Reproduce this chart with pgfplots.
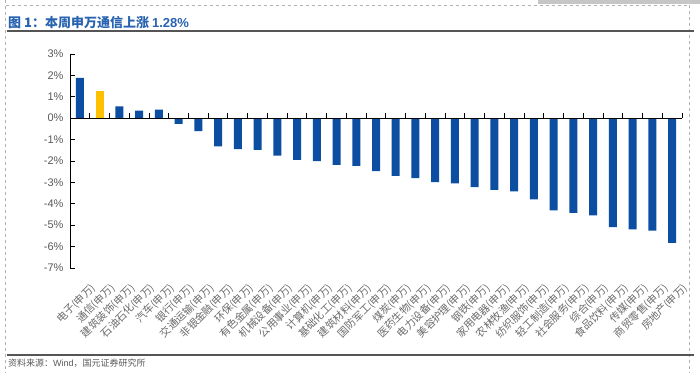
\documentclass[border=0pt]{standalone}
\usepackage{pgfplots}
\pgfplotsset{compat=1.18}
\usepackage{fontspec}
\setmainfont{Liberation Sans}
\newfontfamily\cjk{Noto Sans CJK SC}
\definecolor{barblue}{HTML}{0B4EA2}
\definecolor{baryellow}{HTML}{FFC000}
\definecolor{titleblue}{HTML}{2763B0}
\definecolor{txtgray}{HTML}{595959}
\definecolor{lblgray}{HTML}{6A6A6A}
\definecolor{rulegray}{HTML}{555555}
\begin{document}
\begin{tikzpicture}
\path[use as bounding box] (0pt,0pt) rectangle (700pt,373pt);
% frame artifacts
\fill[gray!45] (538pt,373pt) rectangle (700pt,369pt);
\draw[gray!60, dashed, line width=0.5pt] (5.5pt,373pt) -- (5.5pt,0pt);
\draw[gray!60, dashed, line width=0.5pt] (5.5pt,368pt) -- (689pt,368pt) -- (689pt,0pt);
% title
\node[anchor=base west, inner sep=0pt, text=titleblue, font=\fontsize{13}{13}\selectfont\bfseries] at (8pt,345pt) {\cjk\bfseries 图 1：本周申万通信上涨 {\rmfamily\bfseries 1.28\%}};
\draw[rulegray, line width=1.6pt] (7pt,342pt) -- (694pt,342pt);
% source
\draw[rulegray, line width=1.6pt] (7pt,18pt) -- (694pt,18pt);
\node[anchor=base west, inner sep=0pt, text=txtgray, font=\fontsize{9}{9}\selectfont] at (8pt,6.5pt) {\cjk 资料来源：{\rmfamily Wind}，国元证券研究所};
\begin{axis}[
  at={(70pt,105pt)}, anchor=south west,
  width=612pt, height=214pt, scale only axis,
  xmin=-0.5, xmax=30.5, ymin=-7, ymax=3,
  axis y line*=left, axis x line*=bottom,
  x axis line style={draw=none},
  y axis line style={black, line width=0.9pt},
  ytick={-7,...,3},
  yticklabel={\pgfmathprintnumber{\tick}\%},
  /pgf/number format/assume math mode=true,
  y tick label style={font=\fontsize{11}{11}\selectfont, text=txtgray, xshift=-3pt},
  ytick style={black, line width=0.9pt},
  major tick length=5pt,
  tick align=inside,
  xtick={0,...,30},
  xtick style={draw=none},
  xticklabels={电子(申万),通信(申万),建筑装饰(申万),石油石化(申万),汽车(申万),银行(申万),交通运输(申万),非银金融(申万),环保(申万),有色金属(申万),机械设备(申万),公用事业(申万),计算机(申万),基础化工(申万),建筑材料(申万),国防军工(申万),煤炭(申万),医药生物(申万),电力设备(申万),美容护理(申万),钢铁(申万),家用电器(申万),农林牧渔(申万),纺织服饰(申万),轻工制造(申万),社会服务(申万),综合(申万),食品饮料(申万),传媒(申万),商贸零售(申万),房地产(申万)},
  x tick label style={font=\cjk\fontsize{10.5}{10.5}\selectfont, text=lblgray, rotate=45, anchor=north east, inner sep=0pt, xshift=-3pt, yshift=-17pt},
  clip=false,
]
\addplot[ybar, bar width=8pt, bar shift=0pt, fill=barblue, draw=none] coordinates {
(0,1.89) (2,0.55) (3,0.35) (4,0.40) (5,-0.26) (6,-0.60) (7,-1.32) (8,-1.44) (9,-1.48) (10,-1.75)
(11,-1.95) (12,-2.00) (13,-2.18) (14,-2.23) (15,-2.47) (16,-2.70) (17,-2.80) (18,-2.99) (19,-3.05) (20,-3.22)
(21,-3.35) (22,-3.42) (23,-3.79) (24,-4.31) (25,-4.42) (26,-4.54) (27,-5.09) (28,-5.19) (29,-5.25) (30,-5.82)
};
\addplot[ybar, bar width=8pt, bar shift=0pt, fill=baryellow, draw=none] coordinates {(1,1.28)};
\draw[black, line width=0.9pt] (axis cs:-0.5,0) -- (axis cs:30.5,0);
\pgfplotsinvokeforeach{-0.5,0.5,...,30.5}{
  \draw[black, line width=0.9pt] (axis cs:#1,0) -- ([yshift=5pt]axis cs:#1,0);
}
\end{axis}
\end{tikzpicture}
\end{document}
